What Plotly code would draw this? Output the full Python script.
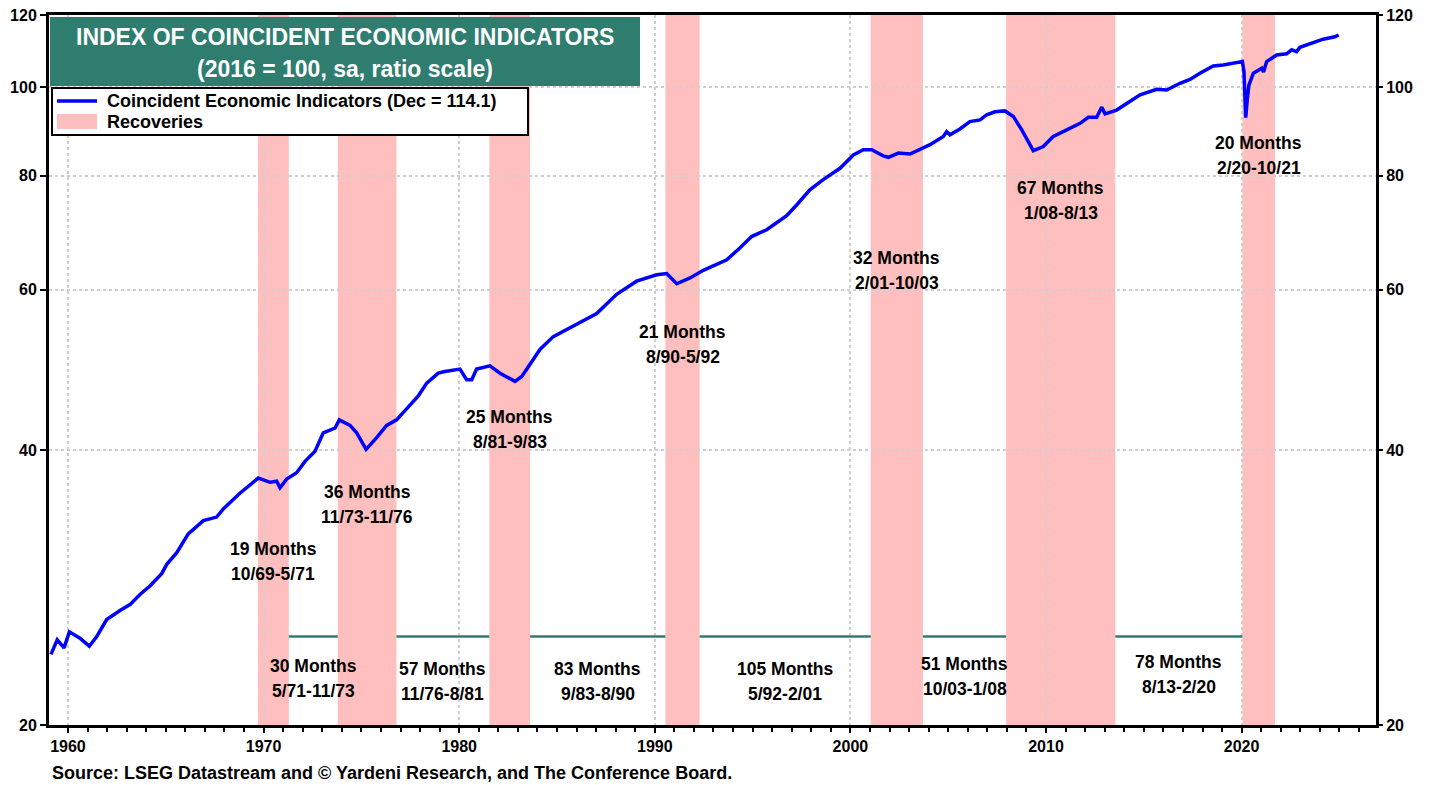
import math
import plotly.graph_objects as go

# Coincident Economic Indicators index (2016 = 100)
years = [1959.13, 1959.45, 1959.80, 1960.07, 1960.61, 1961.09, 1961.47, 1961.98, 1962.66, 1963.17,
         1963.68, 1964.19, 1964.79, 1965.05, 1965.56, 1966.15, 1966.92, 1967.60, 1967.94, 1968.79,
         1969.73, 1970.33, 1970.67, 1970.84, 1971.18, 1971.69, 1972.12, 1972.63, 1973.05, 1973.65,
         1973.87, 1974.42, 1974.76, 1975.24, 1975.78, 1976.29, 1976.80, 1977.32, 1977.91, 1978.34,
         1978.93, 1979.27, 1980.04, 1980.38, 1980.64, 1980.89, 1981.57, 1982.09, 1982.85, 1983.20,
         1983.62, 1984.13, 1984.81, 1985.32, 1986.18, 1987.03, 1988.05, 1989.07, 1990.10, 1990.61,
         1991.12, 1991.80, 1992.48, 1992.91, 1993.68, 1994.36, 1994.95, 1995.72, 1996.74, 1997.25,
         1997.93, 1998.61, 1999.47, 2000.15, 2000.66, 2001.09, 2001.68, 2001.94, 2002.45, 2003.05,
         2003.56, 2004.07, 2004.75, 2004.92, 2005.09, 2005.60, 2006.11, 2006.63, 2006.97, 2007.39,
         2007.90, 2008.33, 2008.76, 2009.10, 2009.35, 2009.86, 2010.37, 2011.06, 2011.74, 2012.16,
         2012.59, 2012.85, 2013.02, 2013.61, 2014.29, 2014.81, 2015.66, 2016.17, 2016.85, 2017.36,
         2017.87, 2018.55, 2019.06, 2019.58, 2020.04, 2020.12, 2020.21, 2020.29, 2020.37, 2020.60,
         2021.03, 2021.12, 2021.28, 2021.79, 2022.30, 2022.56, 2022.81, 2022.98, 2023.66, 2024.17,
         2024.77, 2024.96]
cei = [23.9, 24.8, 24.3, 25.3, 24.9, 24.4, 25.0, 26.1, 26.7, 27.1,
       27.8, 28.4, 29.3, 30.0, 30.9, 32.4, 33.5, 33.8, 34.5, 35.9,
       37.3, 36.9, 37.0, 36.4, 37.2, 37.8, 38.9, 39.9, 41.8, 42.3,
       43.2, 42.6, 41.8, 40.1, 41.3, 42.6, 43.2, 44.5, 45.9, 47.4,
       48.6, 48.8, 49.1, 47.8, 47.8, 49.1, 49.5, 48.6, 47.6, 48.2,
       49.7, 51.6, 53.3, 54.0, 55.3, 56.5, 59.3, 61.3, 62.3, 62.5,
       60.9, 61.8, 63.0, 63.6, 64.7, 66.7, 68.6, 69.8, 72.3, 74.3,
       77.2, 79.2, 81.5, 84.3, 85.4, 85.4, 84.1, 83.8, 84.7, 84.5,
       85.4, 86.5, 88.3, 89.4, 88.7, 90.0, 91.7, 92.1, 93.3, 94.0,
       94.2, 92.9, 89.8, 86.9, 85.2, 86.1, 88.3, 89.8, 91.3, 92.7,
       92.7, 95.1, 93.5, 94.4, 96.5, 98.1, 99.5, 99.3, 101.0, 102.0,
       103.6, 105.5, 105.8, 106.4, 106.7, 104.0, 92.6, 97.0, 100.5, 103.6,
       104.9, 103.9, 106.7, 108.5, 108.8, 109.9, 109.4, 110.6, 111.9, 112.9,
       113.6, 114.1]

# shaded periods (month/yy) and their labels
band_start = ["10/69", "11/73", "8/81", "8/90", "2/01", "1/08", "2/20"]
band_end = ["5/71", "11/76", "9/83", "5/92", "10/03", "8/13", "10/21"]
band_months = ["19 Months", "36 Months", "25 Months", "21 Months", "32 Months", "67 Months", "20 Months"]
band_label_y = [30.2, 34.9, 42.2, 52.2, 63.0, 75.1, 84.2]

# periods between the shaded bands
gap_months = ["30 Months", "57 Months", "83 Months", "105 Months", "51 Months", "78 Months"]
gap_label_y = [22.5, 22.3, 22.3, 22.3, 22.6, 22.7]
gap_level = 25.0

y_ticks = [20, 40, 60, 80, 100, 120]
x_ticks = [1960, 1970, 1980, 1990, 2000, 2010, 2020]

W, H = 1438, 785
L, R, T, B = 49, 1376, 15, 725
FONT = "Arial, Liberation Sans, sans-serif"
BLUE = "#0000FF"
PINK = "#FFBFBF"
TEAL = "#2E7D6F"


def to_year(s):
    m, y = s.split("/")
    y = int(y)
    y = 1900 + y if y >= 50 else 2000 + y
    return y + (int(m) - 1.5) / 12


def fx(px):
    return (px - L) / (R - L)


def fy(py):
    return (B - py) / (B - T)


starts = [to_year(s) for s in band_start]
ends = [to_year(s) for s in band_end]

fig = go.Figure()

# line for the periods between shaded bands
gx, gy = [], []
for i in range(len(starts) - 1):
    gx += [ends[i], starts[i + 1], None]
    gy += [gap_level, gap_level, None]
fig.add_trace(go.Scatter(x=gx, y=gy, mode="lines", line=dict(color=TEAL, width=2.5),
                         hoverinfo="skip", showlegend=False, yaxis="y2"))

fig.add_trace(go.Scatter(x=years, y=cei, mode="lines", line=dict(color=BLUE, width=3.5),
                         name="Coincident Economic Indicators (Dec = %.1f)" % cei[-1],
                         showlegend=False))

for s, e in zip(starts, ends):
    fig.add_shape(type="rect", x0=s, x1=e, y0=0, y1=1, xref="x", yref="paper",
                  fillcolor=PINK, line_width=0, layer="between")

ann_font = dict(family=FONT, size=17.5, color="black", weight="bold")
for s, e, m, sy, ey, ly in zip(starts, ends, band_months, band_start, band_end, band_label_y):
    xm = (s + e) / 2
    fig.add_annotation(x=xm, y=math.log10(ly), text=m, showarrow=False, yshift=12.5, font=ann_font)
    fig.add_annotation(x=xm, y=math.log10(ly), text="%s-%s" % (sy, ey), showarrow=False, yshift=-12.5, font=ann_font)

for i, (m, ly) in enumerate(zip(gap_months, gap_label_y)):
    xm = (ends[i] + starts[i + 1]) / 2
    fig.add_annotation(x=xm, y=math.log10(ly), text=m, showarrow=False, yshift=12.5, font=ann_font)
    fig.add_annotation(x=xm, y=math.log10(ly), text="%s-%s" % (band_end[i], band_start[i + 1]),
                       showarrow=False, yshift=-12.5, font=ann_font)

# title box
fig.add_shape(type="rect", xref="paper", yref="paper", x0=fx(50), x1=fx(640), y0=fy(86), y1=fy(17),
              fillcolor=TEAL, line_width=0, layer="above")
title_font = dict(family=FONT, size=23, color="white", weight="bold")
fig.add_annotation(xref="paper", yref="paper", x=fx(345), y=fy(37), xanchor="center", yanchor="middle",
                   text="INDEX OF COINCIDENT ECONOMIC INDICATORS", showarrow=False, font=title_font)
fig.add_annotation(xref="paper", yref="paper", x=fx(345), y=fy(69), xanchor="center", yanchor="middle",
                   text="(2016 = 100, sa, ratio scale)", showarrow=False, font=title_font)

# legend box
fig.add_shape(type="rect", xref="paper", yref="paper", x0=fx(52), x1=fx(528), y0=fy(135), y1=fy(88),
              fillcolor="white", line=dict(color="black", width=2), layer="above")
fig.add_shape(type="line", xref="paper", yref="paper", x0=fx(57), x1=fx(97), y0=fy(101), y1=fy(101),
              line=dict(color=BLUE, width=3.5), layer="above")
fig.add_shape(type="rect", xref="paper", yref="paper", x0=fx(57), x1=fx(97), y0=fy(129), y1=fy(114),
              fillcolor=PINK, line_width=0, layer="above")
leg_font = dict(family=FONT, size=18, color="black", weight="bold")
fig.add_annotation(xref="paper", yref="paper", x=fx(105), y=fy(101), xanchor="left", yanchor="middle",
                   text="Coincident Economic Indicators (Dec = %.1f)" % cei[-1], showarrow=False, font=leg_font)
fig.add_annotation(xref="paper", yref="paper", x=fx(105), y=fy(122), xanchor="left", yanchor="middle",
                   text="Recoveries", showarrow=False, font=leg_font)

fig.add_annotation(xref="paper", yref="paper", x=fx(50), y=fy(773), xanchor="left", yanchor="middle",
                   text="Source: LSEG Datastream and © Yardeni Research, and The Conference Board.",
                   showarrow=False, font=dict(family=FONT, size=18, color="black", weight="bold"))

tick_font = dict(family=FONT, size=16, color="black", weight="bold")
yrange = [math.log10(20), math.log10(120)]
fig.update_layout(
    width=W, height=H,
    margin=dict(l=L, r=W - R, t=T, b=H - B, autoexpand=False),
    plot_bgcolor="white", paper_bgcolor="white",
    showlegend=False,
    xaxis=dict(range=[1959.03, 2026.87], tickvals=x_ticks, showgrid=True, gridcolor="#CFCFCF",
               griddash="dot", gridwidth=1.5, showline=True, linewidth=3, linecolor="black",
               mirror=True, ticks="outside", ticklen=5, tickwidth=1.5, tickcolor="black",
               tickfont=tick_font, zeroline=False, automargin=False,
               minor=dict(tickvals=list(range(1959, 2027)), ticks="outside", ticklen=4,
                          tickcolor="black", showgrid=False)),
    yaxis=dict(type="log", range=yrange, tickvals=y_ticks, showgrid=True, gridcolor="#CFCFCF",
               griddash="dot", gridwidth=1.5, showline=True, linewidth=3, linecolor="black",
               mirror=True, ticks="outside", ticklen=6, tickwidth=1.5, tickcolor="black",
               tickfont=tick_font, automargin=False),
    yaxis2=dict(type="log", range=yrange, tickvals=y_ticks, overlaying="y", side="right",
                showgrid=False, showline=False, ticks="outside", ticklen=6, tickwidth=1.5,
                tickcolor="black", tickfont=tick_font, automargin=False),
)

fig.write_html("out.html", config={"displayModeBar": False},
               post_script="document.body.style.margin='0';")
